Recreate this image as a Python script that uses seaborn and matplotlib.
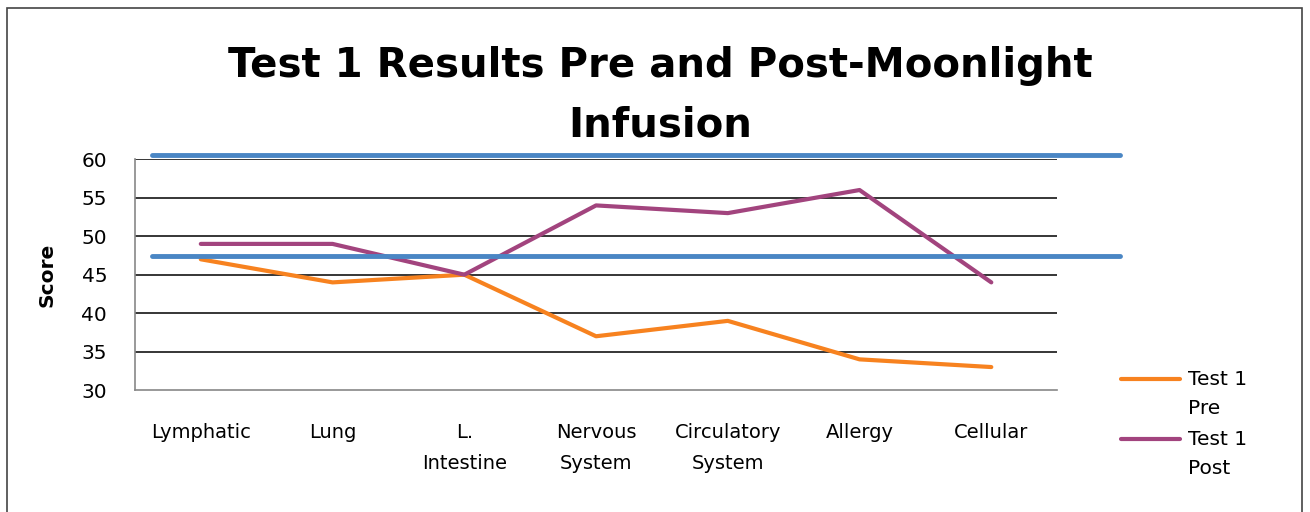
import pandas as pd
import matplotlib.pyplot as plt
import seaborn as sns
from matplotlib.lines import Line2D
from matplotlib.patches import Rectangle

# Données
categories = ["Lymphatic", "Lung", "L.\nIntestine", "Nervous\nSystem",
              "Circulatory\nSystem", "Allergy", "Cellular"]
test1_pre = [47, 44, 45, 37, 39, 34, 33]
test1_post = [49, 49, 45, 54, 53, 56, 44]
ref_lines = [60.6, 47.4]
y_ticks = [30, 35, 40, 45, 50, 55, 60]
series = ["Test 1\nPre", "Test 1\nPost"]

c_pre = "#f7821f"
c_post = "#a2447e"
c_ref = "#4a86c4"

df = pd.DataFrame({
    "cat": categories * 2,
    "score": test1_pre + test1_post,
    "serie": [series[0]] * 7 + [series[1]] * 7,
})

sns.set_style("white")
plt.rcParams["font.family"] = ["DejaVu Sans"]
plt.rcParams["text.color"] = "black"
plt.rcParams["axes.labelcolor"] = "black"
plt.rcParams["xtick.color"] = "black"
plt.rcParams["ytick.color"] = "black"

fig = plt.figure(figsize=(13.1, 5.12), dpi=100)
ax = fig.add_axes([0.103, 0.238, 0.704, 0.451])

sns.lineplot(data=df, x="cat", y="score", hue="serie", sort=False,
             palette=[c_pre, c_post], linewidth=3, ax=ax, legend=False)

ax.set_xlim(-0.5, 6.5)
ax.set_ylim(30, 60)
ax.set_yticks(y_ticks)
for v in y_ticks[1:]:
    ax.axhline(v, color="black", lw=1.1, zorder=0)

# lignes bleues qui dépassent du cadre
for v in ref_lines:
    ax.axhline(v, xmin=0.018, xmax=1.068, color=c_ref, lw=3.5, clip_on=False, zorder=5)

for s in ["top", "right"]:
    ax.spines[s].set_visible(False)
for s in ["left", "bottom"]:
    ax.spines[s].set_color("#888888")
    ax.spines[s].set_linewidth(1.2)

ax.tick_params(axis="y", length=0, pad=20, labelsize=14.5)
ax.tick_params(axis="x", length=0, pad=24, labelsize=14)
for lab in ax.get_xticklabels():
    lab.set_linespacing(1.75)
ax.set_xlabel("")
ax.set_ylabel("Score", fontsize=14.5, fontweight="bold", labelpad=18)

fig.text(0.504, 0.813, "Test 1 Results Pre and Post-Moonlight\nInfusion",
         ha="center", va="center", fontsize=29, fontweight="bold", linespacing=1.6)

# légende faite main : le trait est aligné sur la première ligne du texte
for i, (lab, col) in enumerate(zip(series, [c_pre, c_post])):
    y = 0.260 - i * 0.117
    fig.add_artist(Line2D([0.856, 0.901], [y, y], color=col, lw=3,
                          transform=fig.transFigure))
    fig.text(0.907, y + 0.018, lab, ha="left", va="top", fontsize=14.5, linespacing=1.7)

fig.patches.append(Rectangle((0.005, -0.02), 0.989, 1.004, transform=fig.transFigure,
                             fill=False, edgecolor="#444444", lw=1.2))

plt.savefig("out.png", dpi=100)
